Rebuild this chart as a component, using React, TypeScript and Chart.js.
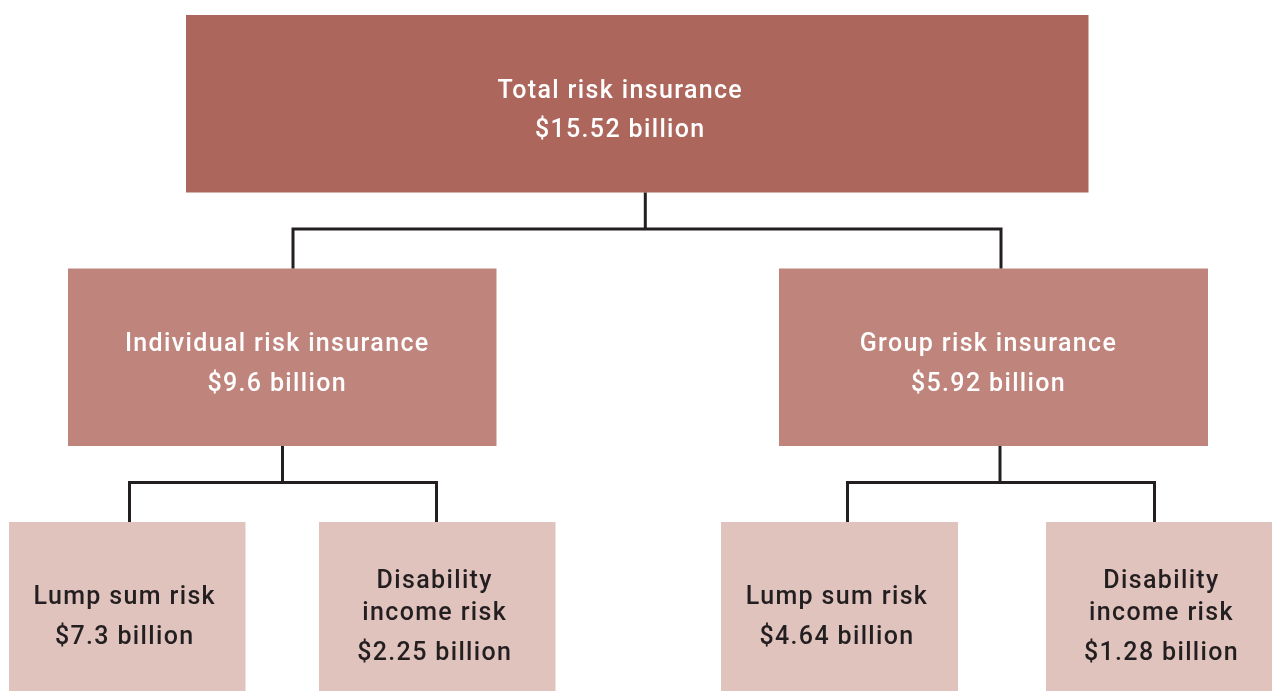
import React, { useEffect, useRef } from 'react';
import { Chart, registerables } from 'chart.js';

Chart.register(...registerables);

// ---- data ----
const nodeNames = [
  'Total risk insurance',
  'Individual risk insurance',
  'Group risk insurance',
  'Lump sum risk',
  'Disability income risk',
  'Lump sum risk',
  'Disability income risk',
];
const nodeValues = [15.52, 9.6, 5.92, 7.3, 2.25, 4.64, 1.28];
const nodeParents = [-1, 0, 0, 1, 1, 2, 2];
const nodeLevels = [0, 1, 1, 2, 2, 2, 2];

// ---- layout (x in layout units on a 0..1272 axis, y in tree levels) ----
const nodeSpans: [number, number][] = [
  [186, 1088.5],
  [68, 496.5],
  [779, 1208],
  [9, 245.5],
  [319, 555.5],
  [721, 958],
  [1046, 1282],
];
const linkInX: (number | null)[] = [null, 293, 1001, 129.5, 436.5, 847.5, 1154.5];
const linkOutX: (number | null)[] = [645.3, 282.5, 1000, null, null, null, null];
const labelShiftX = [-17, -5, -5, -2.5, -2.5, -2.5, -2.5];

const BOX_DEPTH = 0.7; // fraction of level spacing
const ELBOW = 0.494;

// ---- styles ----
const levelColors = ['#AD665C', '#BF847C', '#E1C3BE'];
const levelText = ['#FFFFFF', '#FFFFFF', '#231F20'];
const lineColor = '#231F20';

const labelPlugin = {
  id: 'nodeLabels',
  afterDatasetsDraw(chart: any) {
    const meta = chart.getDatasetMeta(0);
    const xScale = chart.scales.x;
    const ctx = chart.ctx as any;
    ctx.save();
    ctx.font = '500 25px Roboto';
    try { ctx.letterSpacing = '1.35px'; } catch (e) {}
    ctx.textAlign = 'center';
    ctx.textBaseline = 'alphabetic';
    meta.data.forEach((el: any, i: number) => {
      const { x, y, base } = el.getProps(['x', 'y', 'base'], true);
      const mid = (x + base) / 2;
      const cx = xScale.getPixelForValue(xScale.getValueForPixel(mid) + labelShiftX[i]);
      const maxW = Math.abs(x - base) - 30;
      const words = nodeNames[i].split(' ');
      const nameLines: string[] = [];
      let cur = '';
      for (const w of words) {
        const t = cur ? cur + ' ' + w : w;
        if (ctx.measureText(t).width > maxW && cur) {
          nameLines.push(cur);
          cur = w;
        } else cur = t;
      }
      if (cur) nameLines.push(cur);
      const valueLine = '$' + nodeValues[i] + ' billion';
      const nameGap = 32;
      const valueGap = 39.5;
      const total = (nameLines.length - 1) * nameGap + valueGap;
      let by = y + 13.5 - total / 2;
      ctx.fillStyle = levelText[nodeLevels[i]];
      nameLines.forEach((ln) => {
        ctx.fillText(ln, cx, by);
        by += nameGap;
      });
      by += valueGap - nameGap;
      ctx.fillText(valueLine, cx, by);
    });
    ctx.restore();
  },
};

export default function App() {
  const ref = useRef<HTMLCanvasElement | null>(null);
  useEffect(() => {
    document.body.style.margin = '0';
    const canvas = ref.current!;
    const boxes = nodeSpans.map((s, i) => ({ x: s, y: nodeLevels[i] }));
    const levels = Array.from(new Set(nodeLevels));

    const lineSets: any[] = [];
    const parents = Array.from(new Set(nodeParents.filter((p) => p >= 0)));
    parents.forEach((p) => {
      const kids = nodeParents.map((q, i) => (q === p ? i : -1)).filter((i) => i >= 0);
      const L = nodeLevels[p];
      const px = linkOutX[p] as number;
      lineSets.push({
        type: 'line',
        data: [
          { x: px, y: L + BOX_DEPTH / 2 },
          { x: px, y: L + ELBOW },
        ],
      });
      const first = kids[0];
      const last = kids[kids.length - 1];
      const cl = nodeLevels[first];
      lineSets.push({
        type: 'line',
        data: [
          { x: linkInX[first] as number, y: cl - BOX_DEPTH / 2 },
          { x: linkInX[first] as number, y: L + ELBOW },
          { x: linkInX[last] as number, y: L + ELBOW },
          { x: linkInX[last] as number, y: cl - BOX_DEPTH / 2 },
        ],
      });
    });
    lineSets.forEach((d) => {
      Object.assign(d, {
        borderColor: lineColor,
        borderWidth: 3,
        pointRadius: 0,
        fill: false,
        tension: 0,
        borderJoinStyle: 'miter',
        borderCapStyle: 'butt',
        order: 0,
      });
    });

    const chart = new Chart(canvas, {
      type: 'bar',
      data: {
        datasets: [
          {
            type: 'bar',
            data: boxes as any,
            backgroundColor: (c: any) => levelColors[nodeLevels[c.dataIndex]] || levelColors[0],
            borderWidth: 0,
            borderSkipped: false,
            grouped: false,
            categoryPercentage: 1,
            barPercentage: BOX_DEPTH,
            order: 1,
          } as any,
          ...lineSets,
        ],
      },
      options: {
        indexAxis: 'y',
        animation: false,
        responsive: false,
        events: [],
        layout: { padding: 0 },
        scales: {
          x: { type: 'linear', min: 0, max: 1272, display: false, offset: false },
          y: {
            type: 'linear',
            min: -0.4096,
            max: 2.3168,
            reverse: true,
            display: false,
            offset: false,
            afterBuildTicks: (s: any) => {
              s.ticks = levels.map((v) => ({ value: v }));
            },
          },
        },
        plugins: {
          legend: { display: false },
          tooltip: { enabled: false },
        },
      } as any,
      plugins: [labelPlugin],
    });
    return () => chart.destroy();
  }, []);
  return (
    <div style={{ position: 'fixed', left: 0, top: 0, width: 1272, height: 691, background: '#fff' }}>
      <canvas ref={ref} width={1272} height={691} style={{ display: 'block' }} />
    </div>
  );
}
